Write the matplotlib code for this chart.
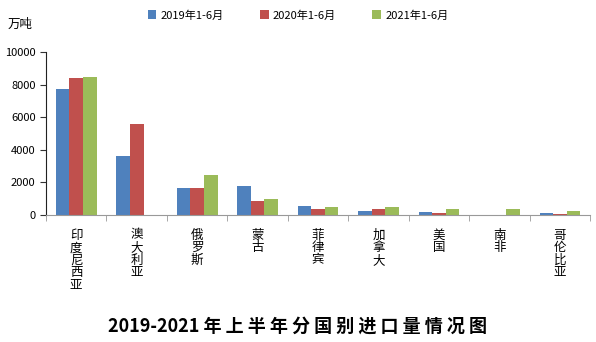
import matplotlib
matplotlib.use("Agg")
import matplotlib.pyplot as plt
import numpy as np

plt.rcParams['font.family'] = ['Noto Sans CJK SC', 'DejaVu Sans']

countries = ["印度尼西亚", "澳大利亚", "俄罗斯", "蒙古", "菲律宾", "加拿大", "美国", "南非", "哥伦比亚"]
series_names = ["2019年1-6月", "2020年1-6月", "2021年1-6月"]
v2019 = [7700, 3610, 1660, 1770, 530, 260, 160, 0, 80]
v2020 = [8430, 5580, 1650, 840, 330, 330, 80, 0, 70]
v2021 = [8490, 0, 2440, 950, 450, 450, 380, 330, 260]
colors = ["#4f81bd", "#c0504d", "#9bbb59"]
title = "2019-2021 年 上 半 年 分 国 别 进 口 量 情 况 图"

fig = plt.figure(figsize=(5.96, 3.42), dpi=100)
ax = fig.add_axes([0.0772, 0.372, 0.913, 0.476])

x = np.arange(len(countries))
w = 0.225
for i, (vals, c, name) in enumerate(zip([v2019, v2020, v2021], colors, series_names)):
    ax.bar(x + (i - 1) * w, vals, width=w, color=c, label=name, zorder=2)

ax.set_xlim(-0.5, len(countries) - 0.5)
ax.set_ylim(0, 10000)
ax.set_yticks([0, 2000, 4000, 6000, 8000, 10000])
ax.tick_params(axis='y', labelsize=8, length=4, direction='out', color='#333333')
ax.set_xticks(np.arange(len(countries) + 1) - 0.5, minor=True)
ax.set_xticks(x)
ax.set_xticklabels(["\n".join(n) for n in countries], fontsize=9, linespacing=0.95, va='top')
ax.tick_params(axis='x', which='major', length=0, pad=10)
ax.tick_params(axis='x', which='minor', length=4, color='#999999', direction='out')
for s in ["top", "right"]:
    ax.spines[s].set_visible(False)
ax.spines["left"].set_color("#222222")
ax.spines["bottom"].set_color("#999999")

fig.text(0.013, 0.918, "万吨", fontsize=9)
leg = fig.legend(loc="upper center", bbox_to_anchor=(0.50, 1.0), ncol=3, frameon=False,
                 fontsize=8, handlelength=0.8, handleheight=0.8, columnspacing=3.2,
                 handletextpad=0.4)
fig.text(0.50, 0.048, title, fontsize=13, fontweight='bold', ha='center', va='center')

fig.savefig("out.png", dpi=100)
